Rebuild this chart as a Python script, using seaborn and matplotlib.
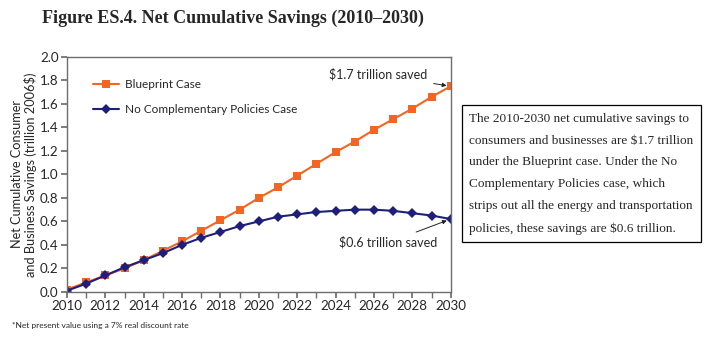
import matplotlib
matplotlib.use("Agg")
import matplotlib.pyplot as plt
import seaborn as sns
import pandas as pd

years = list(range(2010, 2031))
blueprint = [0.02, 0.08, 0.14, 0.20, 0.27, 0.35, 0.43, 0.52, 0.61, 0.70, 0.80,
             0.89, 0.99, 1.09, 1.19, 1.28, 1.38, 1.47, 1.56, 1.66, 1.75]
no_comp = [0.01, 0.07, 0.14, 0.21, 0.27, 0.33, 0.40, 0.46, 0.51, 0.56, 0.60,
           0.64, 0.66, 0.68, 0.69, 0.70, 0.70, 0.69, 0.67, 0.65, 0.62]
series_names = ["Blueprint Case", "No Complementary Policies Case"]
x_ticks = list(range(2010, 2031, 2))
y_ticks = [0.0, 0.2, 0.4, 0.6, 0.8, 1.0, 1.2, 1.4, 1.6, 1.8, 2.0]

df = pd.DataFrame({
    "Year": years * 2,
    "Savings": blueprint + no_comp,
    "Case": [series_names[0]] * len(years) + [series_names[1]] * len(years),
})

sns.set_theme(style="ticks")
plt.rcParams["font.family"] = ["Lato", "DejaVu Sans"]

orange = "#F26522"
navy = "#1E1F7A"
gray = "#6d6d6d"

fig = plt.figure(figsize=(7.2, 3.39), dpi=100)
ax = fig.add_axes([0.093, 0.139, 0.533, 0.693])

sns.lineplot(data=df, x="Year", y="Savings", hue="Case", style="Case",
             palette=[orange, navy], markers=["s", "D"], dashes=False,
             markersize=5.5, markeredgewidth=0, linewidth=1.5, ax=ax)

ax.set_xlim(2010, 2030)
ax.set_ylim(0, 2.0)
ax.set_xticks(x_ticks)
ax.set_xticks(years, minor=True)
ax.set_yticks(y_ticks)
ax.set_yticklabels([f"{v:.1f}" for v in y_ticks])
ax.tick_params(axis="both", which="both", direction="out", color=gray,
               labelsize=9.6, pad=2)
ax.tick_params(axis="both", which="major", length=4)
ax.tick_params(axis="x", which="minor", length=4)
for s in ax.spines.values():
    s.set_color(gray)
    s.set_linewidth(1.0)
ax.set_xlabel("")
ax.set_ylabel("Net Cumulative Consumer\nand Business Savings (trillion 2006$)",
              fontsize=9.2, labelpad=2, linespacing=1.1)

leg = ax.legend(loc="upper left", bbox_to_anchor=(0.04, 0.95), frameon=False,
                fontsize=8.5, handlelength=2.2, handletextpad=0.5,
                labelspacing=1.2)

ax.annotate("$1.7 trillion saved", xy=(2030, blueprint[-1]),
            xytext=(2028.8, 1.85), ha="right", va="center", fontsize=9,
            arrowprops=dict(arrowstyle="-|>", color="#222222", lw=0.7,
                            mutation_scale=6, shrinkB=3))
ax.annotate("$0.6 trillion saved", xy=(2030, no_comp[-1]),
            xytext=(2029.3, 0.42), ha="right", va="center", fontsize=9,
            arrowprops=dict(arrowstyle="-|>", color="#222222", lw=0.7,
                            mutation_scale=6, shrinkB=3))

fig.text(0.058, 0.945, "Figure ES.4. Net Cumulative Savings (2010\u20132030)",
         fontsize=13, fontweight="bold", family="Liberation Serif",
         ha="left", va="center")

box_text = ("The 2010-2030 net cumulative savings to\n"
            "consumers and businesses are $1.7 trillion\n"
            "under the Blueprint case. Under the No\n"
            "Complementary Policies case, which\n"
            "strips out all the energy and transportation\n"
            "policies, these savings are $0.6 trillion.")
fig.text(0.652, 0.487, box_text, fontsize=9.5, family="Liberation Serif",
         ha="left", va="center", linespacing=2.1,
         bbox=dict(boxstyle="square,pad=0.55", facecolor="white",
                   edgecolor="black", linewidth=0.9))

fig.text(0.016, 0.04, "*Net present value using a 7% real discount rate",
         fontsize=6, ha="left", va="center")

fig.savefig("out.png", dpi=100)
